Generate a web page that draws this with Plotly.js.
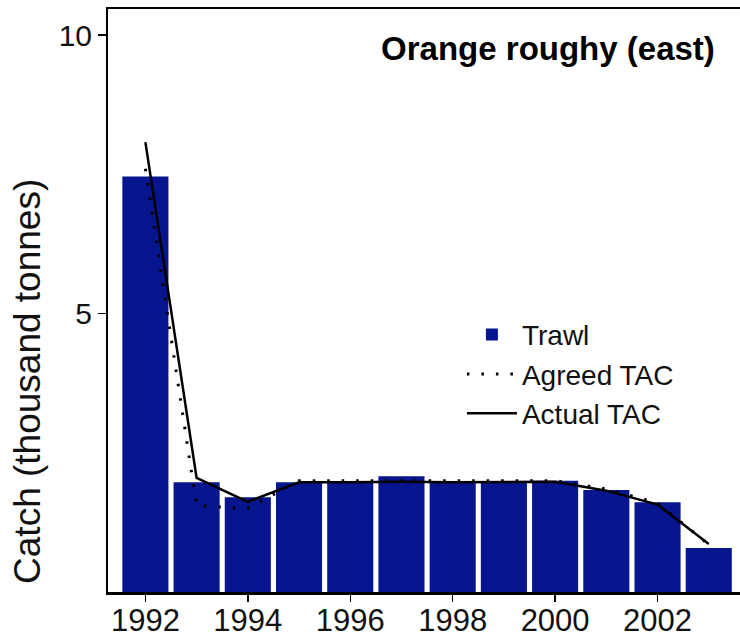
<!DOCTYPE html>
<html>
<head>
<meta charset="utf-8">
<script src="https://cdn.plot.ly/plotly-3.0.1.min.js"></script>
<style>
  html, body { margin: 0; padding: 0; background: #ffffff; }
  #chart { width: 740px; height: 641px; }
</style>
</head>
<body>
<div id="chart"></div>
<script>
// ---- data ----
var years      = [1992, 1993, 1994, 1995, 1996, 1997, 1998, 1999, 2000, 2001, 2002, 2003];
var trawl      = [7.46, 1.97, 1.70, 1.97, 1.96, 2.08, 1.96, 1.96, 2.00, 1.83, 1.61, 0.79];
var agreedTAC  = [7.60, 1.55, 1.50, 2.00, 2.00, 2.00, 2.00, 2.00, 2.00, 1.85, 1.60, 0.85];
var actualTAC  = [8.08, 2.05, 1.62, 1.97, 1.97, 1.98, 1.97, 1.97, 1.98, 1.82, 1.57, 0.86];
var xTickVals  = [1992, 1994, 1996, 1998, 2000, 2002];
var xTickText  = ["1992", "1994", "1996", "1998", "2000", "2002"];
var yTickVals  = [5, 10];
var yTickText  = ["5", "10"];

var FONT = '"Liberation Sans", Arial, Helvetica, sans-serif';

var traces = [
  {
    type: 'bar', name: 'Trawl', x: years, y: trawl,
    marker: { color: '#07168f', line: { width: 0 } },
    hoverinfo: 'x+y'
  },
  {
    type: 'scatter', mode: 'lines', name: 'Agreed TAC', x: years, y: agreedTAC,
    line: { color: '#000000', width: 3, dash: '2.5px,12px' }
  },
  {
    type: 'scatter', mode: 'lines', name: 'Actual TAC', x: years, y: actualTAC,
    line: { color: '#000000', width: 2.5 }
  }
];

var layout = {
  width: 740, height: 641,
  margin: { l: 108, r: 0, t: 9, b: 49, pad: 0 },
  paper_bgcolor: '#ffffff', plot_bgcolor: '#ffffff',
  font: { family: FONT, color: '#111111', size: 28 },
  bargap: 0.1,
  showlegend: true,
  title: {
    text: '<b>Orange roughy (east)</b>',
    font: { family: FONT, size: 33, color: '#000000' },
    xref: 'container', yref: 'container',
    x: 0.966, xanchor: 'right',
    y: 0.925, yanchor: 'middle'
  },
  xaxis: {
    range: [1991.27, 2003.61],
    tickvals: xTickVals, ticktext: xTickText,
    ticks: 'outside', ticklen: 7, tickwidth: 1.5, tickcolor: '#000000',
    ticklabelstandoff: -8,
    showline: true, mirror: true, linecolor: '#000000', linewidth: 2.5,
    showgrid: false, zeroline: false,
    tickfont: { family: FONT, size: 31, color: '#111111' }
  },
  yaxis: {
    range: [0, 10.47],
    tickvals: yTickVals, ticktext: yTickText,
    ticks: 'outside', ticklen: 8, tickwidth: 1.5, tickcolor: '#000000',
    showline: true, linecolor: '#000000', linewidth: 2,
    showgrid: false, zeroline: false,
    tickfont: { family: FONT, size: 30, color: '#111111' }
  },
  annotations: [
    {
      text: 'Catch (thousand tonnes)',
      xref: 'paper', yref: 'paper',
      x: -0.1266, y: 0.362, xanchor: 'center', yanchor: 'middle',
      textangle: -90, showarrow: false,
      font: { family: FONT, size: 37, color: '#111111' }
    }
  ],
  legend: {
    x: 0.56, y: 0.484, xanchor: 'left', yanchor: 'top',
    bgcolor: 'rgba(255,255,255,0)', borderwidth: 0,
    font: { family: FONT, size: 28, color: '#111111' },
    itemwidth: 50, tracegroupgap: 0
  }
};

Plotly.newPlot('chart', traces, layout, { displayModeBar: false, staticPlot: true });
</script>
</body>
</html>
